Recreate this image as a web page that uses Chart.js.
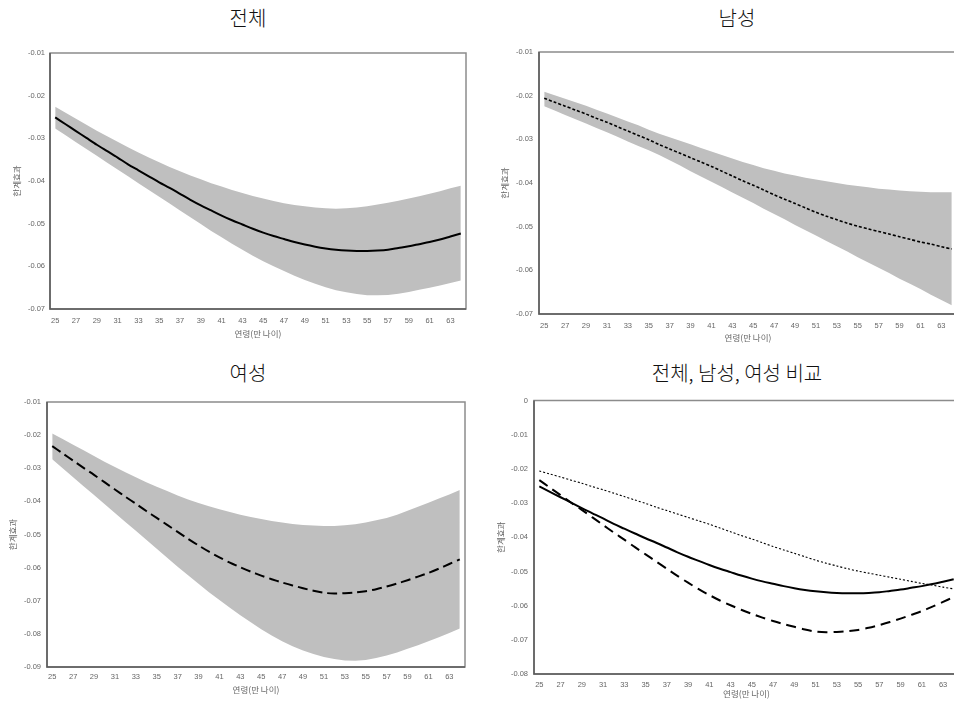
<!DOCTYPE html>
<html>
<head>
<meta charset="utf-8">
<script src="https://cdn.jsdelivr.net/npm/chart.js@4.4.1/dist/chart.umd.min.js"></script>
<style>
  html, body { margin: 0; padding: 0; background: #fff; }
  body { width: 954px; height: 701px; overflow: hidden; position: relative; font-family: "Noto Sans CJK KR", sans-serif; }
  canvas { position: absolute; }
  .title { position: absolute; font-size: 20px; font-weight: 300; color: #111; transform: translate(-50%, -50%); white-space: nowrap; line-height: 1; }
</style>
</head>
<body>
<div class="title" id="t1" style="left:248px; top:18px;"></div>
<div class="title" id="t2" style="left:737px; top:18px;"></div>
<div class="title" id="t3" style="left:248px; top:373px;"></div>
<div class="title" id="t4" style="left:737px; top:373px;"></div>
<canvas id="c1" width="480" height="305" style="left:0px; top:40px;"></canvas>
<canvas id="c2" width="480" height="310" style="left:490px; top:40px;"></canvas>
<canvas id="c3" width="480" height="310" style="left:0px; top:390px;"></canvas>
<canvas id="c4" width="480" height="310" style="left:490px; top:390px;"></canvas>
<script>
const panelTitles = ['전체', '남성', '여성', '전체, 남성, 여성 비교'];
const xTitle = '연령(만 나이)';
const yTitle = '한계효과';

const ages = [25, 26, 27, 28, 29, 30, 31, 32, 33, 34,
              35, 36, 37, 38, 39, 40, 41, 42, 43, 44,
              45, 46, 47, 48, 49, 50, 51, 52, 53, 54,
              55, 56, 57, 58, 59, 60, 61, 62, 63, 64];

// 전체
const total = [-0.0251, -0.0267, -0.0283, -0.0299, -0.0315, -0.0330, -0.0345, -0.0361, -0.0375, -0.0389,
               -0.0403, -0.0416, -0.0430, -0.0444, -0.0457, -0.0469, -0.0481, -0.0492, -0.0502, -0.0512,
               -0.0521, -0.0529, -0.0536, -0.0543, -0.0549, -0.0554, -0.0558, -0.0561, -0.0563, -0.0564,
               -0.0564, -0.0563, -0.0561, -0.0557, -0.0553, -0.0548, -0.0543, -0.0537, -0.0530, -0.0523];
const totalUpper = [-0.0226, -0.0240, -0.0254, -0.0268, -0.0282, -0.0295, -0.0308, -0.0321, -0.0333, -0.0345,
                    -0.0356, -0.0367, -0.0377, -0.0387, -0.0396, -0.0405, -0.0413, -0.0421, -0.0428, -0.0435,
                    -0.0441, -0.0447, -0.0452, -0.0456, -0.0459, -0.0462, -0.0464, -0.0465, -0.0464, -0.0462,
                    -0.0459, -0.0455, -0.0451, -0.0446, -0.0441, -0.0436, -0.0430, -0.0424, -0.0417, -0.0411];
const totalLower = [-0.0277, -0.0293, -0.0309, -0.0325, -0.0341, -0.0357, -0.0373, -0.0389, -0.0405, -0.0421,
                    -0.0437, -0.0453, -0.0469, -0.0485, -0.0501, -0.0517, -0.0532, -0.0547, -0.0561, -0.0575,
                    -0.0588, -0.0600, -0.0611, -0.0622, -0.0632, -0.0641, -0.0649, -0.0656, -0.0661, -0.0665,
                    -0.0668, -0.0668, -0.0667, -0.0664, -0.0660, -0.0655, -0.0650, -0.0645, -0.0639, -0.0633];

// 남성
const male = [-0.0206, -0.0215, -0.0224, -0.0233, -0.0242, -0.0252, -0.0261, -0.0271, -0.0281, -0.0291,
              -0.0301, -0.0312, -0.0322, -0.0332, -0.0342, -0.0352, -0.0362, -0.0373, -0.0384, -0.0395,
              -0.0405, -0.0416, -0.0427, -0.0437, -0.0447, -0.0457, -0.0467, -0.0476, -0.0484, -0.0492,
              -0.0499, -0.0505, -0.0511, -0.0517, -0.0523, -0.0529, -0.0535, -0.0540, -0.0546, -0.0551];
const maleUpper = [-0.0191, -0.0199, -0.0207, -0.0215, -0.0223, -0.0232, -0.0241, -0.0250, -0.0259, -0.0268,
                   -0.0278, -0.0287, -0.0295, -0.0303, -0.0311, -0.0320, -0.0328, -0.0336, -0.0344, -0.0352,
                   -0.0359, -0.0366, -0.0372, -0.0378, -0.0383, -0.0388, -0.0392, -0.0396, -0.0400, -0.0404,
                   -0.0407, -0.0410, -0.0413, -0.0415, -0.0417, -0.0419, -0.0420, -0.0421, -0.0421, -0.0421];
const maleLower = [-0.0224, -0.0234, -0.0244, -0.0254, -0.0264, -0.0274, -0.0284, -0.0294, -0.0305, -0.0315,
                   -0.0325, -0.0336, -0.0348, -0.0360, -0.0373, -0.0385, -0.0397, -0.0409, -0.0422, -0.0434,
                   -0.0446, -0.0459, -0.0471, -0.0483, -0.0496, -0.0508, -0.0520, -0.0533, -0.0545, -0.0557,
                   -0.0570, -0.0582, -0.0594, -0.0606, -0.0619, -0.0631, -0.0643, -0.0656, -0.0668, -0.0680];

// 여성
const female = [-0.0233, -0.0255, -0.0277, -0.0299, -0.0320, -0.0342, -0.0364, -0.0386, -0.0407, -0.0429,
                -0.0450, -0.0471, -0.0492, -0.0513, -0.0533, -0.0552, -0.0569, -0.0585, -0.0599, -0.0612,
                -0.0624, -0.0635, -0.0645, -0.0654, -0.0662, -0.0670, -0.0676, -0.0678, -0.0677, -0.0675,
                -0.0671, -0.0665, -0.0657, -0.0648, -0.0638, -0.0627, -0.0616, -0.0603, -0.0589, -0.0575];
const femaleUpper = [-0.0195, -0.0212, -0.0229, -0.0246, -0.0263, -0.0280, -0.0296, -0.0312, -0.0327, -0.0342,
                     -0.0356, -0.0369, -0.0382, -0.0394, -0.0405, -0.0415, -0.0424, -0.0432, -0.0440, -0.0447,
                     -0.0453, -0.0459, -0.0464, -0.0468, -0.0471, -0.0473, -0.0474, -0.0474, -0.0472, -0.0469,
                     -0.0464, -0.0457, -0.0450, -0.0440, -0.0428, -0.0416, -0.0404, -0.0391, -0.0379, -0.0366];
const femaleLower = [-0.0273, -0.0300, -0.0327, -0.0354, -0.0381, -0.0408, -0.0435, -0.0462, -0.0489, -0.0516,
                     -0.0543, -0.0570, -0.0597, -0.0623, -0.0649, -0.0674, -0.0698, -0.0721, -0.0744, -0.0765,
                     -0.0786, -0.0805, -0.0822, -0.0837, -0.0850, -0.0861, -0.0870, -0.0876, -0.0880, -0.0881,
                     -0.0879, -0.0873, -0.0865, -0.0856, -0.0845, -0.0834, -0.0822, -0.0810, -0.0797, -0.0784];

// y axis ranges [min, max] per panel
const yRange1 = [-0.07, -0.01];
const yRange2 = [-0.07, -0.01];
const yRange3 = [-0.09, -0.01];
const yRange4 = [-0.08, 0];

['t1', 't2', 't3', 't4'].forEach((id, i) => {
    document.getElementById(id).textContent = panelTitles[i];
});

const boxPlugin = {
    id: 'box',
    afterDraw(chart) {
        const a = chart.chartArea;
        const ctx = chart.ctx;
        ctx.save();
        ctx.strokeStyle = '#8c8c8c';
        ctx.lineWidth = 1.5;
        ctx.strokeRect(a.left, a.top, a.right - a.left, a.bottom - a.top);
        ctx.strokeStyle = '#595959';
        ctx.beginPath();
        ctx.moveTo(a.left, a.top);
        ctx.lineTo(a.left, a.bottom);
        ctx.lineTo(a.right, a.bottom);
        ctx.stroke();
        ctx.restore();
    }
};

function band(upper, lower) {
    return [
        { data: upper, borderWidth: 0, pointRadius: 0, fill: '+1', backgroundColor: '#bfbfbf' },
        { data: lower, borderWidth: 0, pointRadius: 0, fill: false }
    ];
}

function lineSet(values, width, dash) {
    return { data: values, borderColor: '#000', borderWidth: width, borderDash: dash, pointRadius: 0, fill: false, tension: 0.3 };
}

function makeChart(id, datasets, yRange, lay) {
    const ctx = document.getElementById(id).getContext('2d');
    return new Chart(ctx, {
        type: 'line',
        data: { labels: ages, datasets: datasets },
        options: {
            responsive: false,
            animation: false,
            layout: { padding: lay.padding },
            plugins: { legend: { display: false }, tooltip: { enabled: false } },
            scales: {
                x: {
                    offset: true,
                    grid: { display: false, drawTicks: false },
                    border: { display: false },
                    ticks: {
                        autoSkip: false,
                        maxRotation: 0,
                        padding: lay.xPad,
                        color: '#666',
                        font: { family: 'Liberation Sans', size: 7.5 },
                        callback: function (value, index) {
                            return index % 2 === 0 ? this.getLabelForValue(value) : '';
                        }
                    },
                    title: { display: true, text: xTitle, color: '#666', padding: 0,
                             font: { family: 'Noto Sans CJK KR', size: 8.5 } },
                    afterFit: (s) => { s.height = lay.xH; }
                },
                y: {
                    min: yRange[0],
                    max: yRange[1],
                    grid: { display: false, drawTicks: false },
                    border: { display: false },
                    ticks: {
                        stepSize: 0.01,
                        padding: lay.yPad,
                        color: '#666',
                        font: { family: 'Liberation Sans', size: 7.5 },
                        callback: (v) => Math.abs(v) < 1e-9 ? '0' : v.toFixed(2)
                    },
                    title: { display: true, text: yTitle, color: '#666', padding: 0,
                             font: { family: 'Noto Sans CJK KR', size: 8.5 } },
                    afterFit: (s) => { s.width = lay.yW; }
                }
            }
        },
        plugins: [boxPlugin]
    });
}

makeChart('c1', [lineSet(total, 2, [])].concat(band(totalUpper, totalLower)), yRange1,
    { padding: { top: 13, right: 14, left: 12, bottom: 6 }, xH: 30, yW: 38, xPad: 7, yPad: 5 });

makeChart('c2', [lineSet(male, 1.6, [3, 2])].concat(band(maleUpper, maleLower)), yRange2,
    { padding: { top: 12, right: 13, left: 10, bottom: 7 }, xH: 29, yW: 39, xPad: 7, yPad: 6 });

makeChart('c3', [lineSet(female, 2, [10, 5])].concat(band(femaleUpper, femaleLower)), yRange3,
    { padding: { top: 12, right: 15, left: 8, bottom: 5 }, xH: 28, yW: 39, xPad: 5, yPad: 6 });

makeChart('c4', [lineSet(total, 2, []), lineSet(male, 1.1, [2, 2]), lineSet(female, 2, [10, 6])], yRange4,
    { padding: { top: 9, right: 11, left: 6, bottom: 1 }, xH: 25, yW: 38, xPad: 6, yPad: 6 });
</script>
</body>
</html>
